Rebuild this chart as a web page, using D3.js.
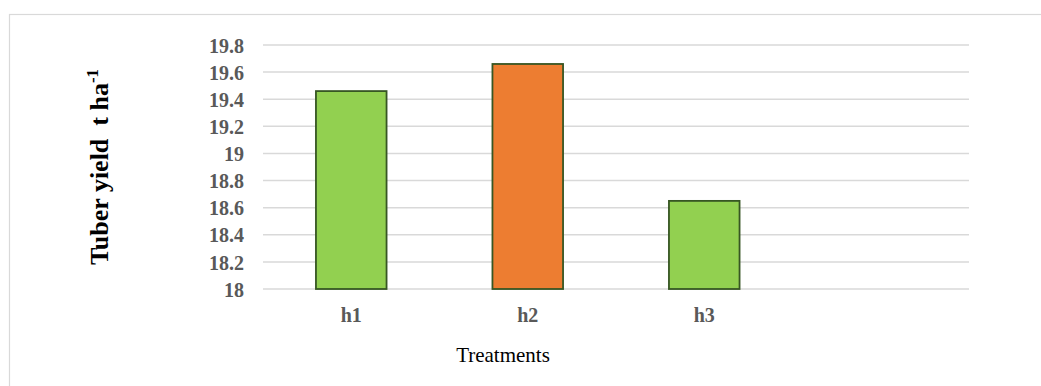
<!DOCTYPE html>
<html>
<head>
<meta charset="utf-8">
<script src="https://cdn.jsdelivr.net/npm/d3@7"></script>
<style>
  html, body { margin: 0; padding: 0; background: #ffffff; }
  svg { display: block; }
</style>
</head>
<body>
<svg id="chart" width="1041" height="386"></svg>
<script>
const categories = ["h1", "h2", "h3", ""];
const values = [19.46, 19.66, 18.65, null];
const barColors = ["#92D050", "#ED7D31", "#92D050", "#92D050"];
const yTicks = [18, 18.2, 18.4, 18.6, 18.8, 19, 19.2, 19.4, 19.6, 19.8];
const yTitle = "Tuber yield  t ha";
const yTitleSup = "-1";
const xTitle = "Treatments";

(function () {
const svg = d3.select("#chart");
const serif = "'Liberation Serif', 'Times New Roman', serif";

// outer chart border
svg.append("rect")
  .attr("x", 9.5).attr("y", 14.5)
  .attr("width", 1100).attr("height", 500)
  .attr("fill", "none").attr("stroke", "#d9d9d9").attr("stroke-width", 1.2);

const pLeft = 263, pRight = 969, pTop = 45, pBottom = 289;

const y = d3.scaleLinear().domain([18, 19.8]).range([pBottom, pTop]);
const x = d3.scaleBand().domain(categories).range([pLeft, pRight])
  .paddingInner(0.6).paddingOuter(0.3);

// gridlines
svg.append("g").selectAll("line").data(yTicks).join("line")
  .attr("x1", pLeft).attr("x2", pRight)
  .attr("y1", d => y(d)).attr("y2", d => y(d))
  .attr("stroke", "#d9d9d9").attr("stroke-width", 1.5);

// y axis labels
const yAxis = svg.append("g")
  .attr("transform", `translate(${pLeft},0)`)
  .call(d3.axisLeft(y).tickValues(yTicks).tickSize(0).tickPadding(19)
    .tickFormat(d => String(+d.toFixed(1))));
yAxis.select(".domain").remove();
yAxis.selectAll("text")
  .attr("font-family", serif).attr("font-weight", "bold")
  .attr("font-size", 20).attr("fill", "#595959").attr("dy", "0.36em");

// bars
svg.append("g").selectAll("rect")
  .data(categories.map((c, i) => ({ c, v: values[i], col: barColors[i] })).filter(d => d.v != null))
  .join("rect")
  .attr("x", d => x(d.c))
  .attr("y", d => y(d.v))
  .attr("width", x.bandwidth())
  .attr("height", d => y(18) - y(d.v))
  .attr("fill", d => d.col)
  .attr("stroke", "#375623").attr("stroke-width", 1.8);

// x axis labels
const xAxis = svg.append("g")
  .attr("transform", `translate(0,${pBottom})`)
  .call(d3.axisBottom(x).tickSize(0).tickPadding(0));
xAxis.select(".domain").remove();
xAxis.selectAll("text")
  .attr("font-family", serif).attr("font-weight", "bold")
  .attr("font-size", 20).attr("fill", "#595959")
  .attr("y", 33).attr("dy", 0);

// x title
svg.append("text")
  .attr("x", 503).attr("y", 362)
  .attr("text-anchor", "middle")
  .attr("font-family", serif).attr("font-size", 21).attr("fill", "#000")
  .text(xTitle);

// y title
const yt = svg.append("text")
  .attr("transform", `translate(108,${(pTop + pBottom) / 2}) rotate(-90)`)
  .attr("text-anchor", "middle")
  .attr("font-family", serif).attr("font-weight", "bold")
  .attr("font-size", 26).attr("fill", "#000")
  .style("white-space", "pre");
yt.append("tspan").text(yTitle);
yt.append("tspan").attr("font-size", 17).attr("dy", -10).text(yTitleSup);
})();
</script>
</body>
</html>
